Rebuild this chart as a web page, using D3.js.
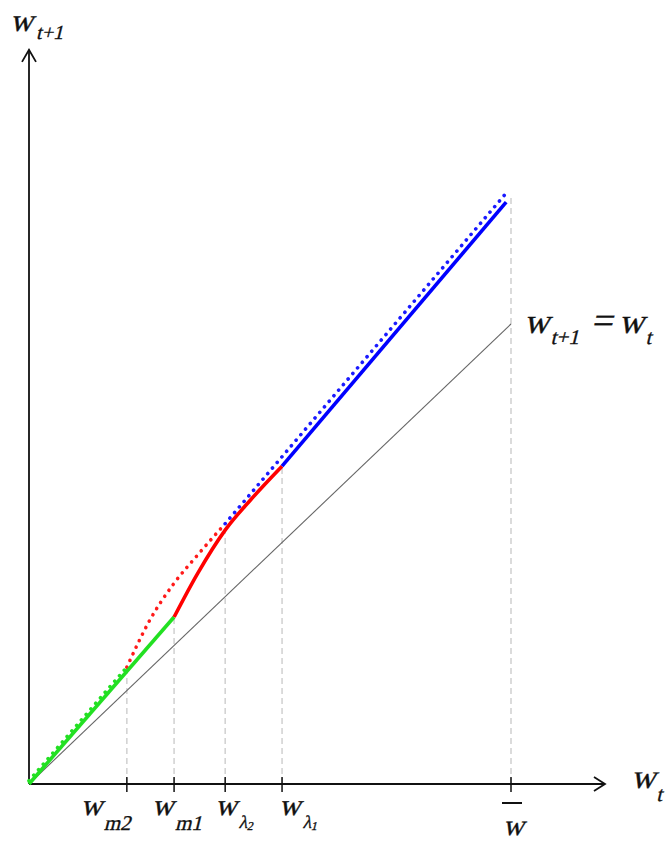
<!DOCTYPE html>
<html>
<head>
<meta charset="utf-8">
<script src="https://cdn.jsdelivr.net/npm/d3@7"></script>
<style>
  body { margin: 0; background: #fff; }
</style>
</head>
<body>
<div id="vizHolder"></div>
<script>
// values, in w units (w-bar = 10)
var	tickNames   = ['m2', 'm1', 'λ2', 'λ1', 'bar'],
		tickVals    = [2.03, 3.01, 4.07, 5.25, 10],
		guideTops   = [2.52, 3.63, 5.66, 6.91, 12.75],
		axisMax     = [11.95, 15.96],
		diagonal    = [[0, 0], [10, 10]],
		greenSolid  = [[0, 0], [3.01, 3.63]],
		greenDotted = [[0, 0.07], [2.03, 2.54]],
		redSolid    = [[3.01, 3.63], [3.5, 4.58], [4.07, 5.52], [4.6, 6.18], [5.25, 6.91]],
		redDotted   = [[2.03, 2.54], [2.5, 3.55], [3.0, 4.35], [3.5, 4.98], [4.07, 5.66]],
		blueSolid   = [[5.25, 6.91], [9.90, 12.65]],
		blueDotted  = [[4.07, 5.66], [9.92, 12.87]];

var width = 666,
		height = 846,
		serif = '"Liberation Serif", "Times New Roman", serif';

var x = d3.scaleLinear().domain([0, 10]).range([29, 511]),
		y = d3.scaleLinear().domain([0, 10]).range([784, 324]);

var svg = d3.select('#vizHolder')
				.append('svg')
				.attr('width', width)
				.attr('height', height)
				.attr('font-family', serif)
				.attr('fill', '#111');

var line = d3.line()
		.x(function(d){ return x(d[0]); })
		.y(function(d){ return y(d[1]); });

var curve = d3.line()
		.curve(d3.curveMonotoneX)
		.x(function(d){ return x(d[0]); })
		.y(function(d){ return y(d[1]); });

/* ----------- dashed guides ----------- */
svg.selectAll('line.guide').data(tickVals)
		.enter().append('line')
		.attr('class', 'guide')
		.attr('x1', function(d){ return x(d); })
		.attr('x2', function(d){ return x(d); })
		.attr('y1', y(0))
		.attr('y2', function(d, i){ return y(guideTops[i]); })
		.attr('stroke', '#d0d0d0')
		.attr('stroke-width', 1.5)
		.attr('stroke-dasharray', '6,4');

/* ----------- 45 degree line ----------- */
svg.append('path')
		.attr('d', line(diagonal))
		.attr('fill', 'none')
		.attr('stroke', '#666')
		.attr('stroke-width', 1.1);

/* ----------- axes ----------- */
var ax = svg.append('g')
		.attr('stroke', '#111')
		.attr('stroke-width', 1.8)
		.attr('fill', 'none');

ax.append('line')
		.attr('x1', x(0)).attr('y1', y(0))
		.attr('x2', x(axisMax[0])).attr('y2', y(0));
ax.append('line')
		.attr('x1', x(0)).attr('y1', y(0))
		.attr('x2', x(0)).attr('y2', y(axisMax[1]));

var xe = x(axisMax[0]), ye = y(axisMax[1]);
ax.append('path').attr('d', 'M' + (xe - 11) + ',' + (y(0) - 7) + 'L' + xe + ',' + y(0) + 'L' + (xe - 11) + ',' + (y(0) + 7));
ax.append('path').attr('d', 'M' + (x(0) - 7) + ',' + (ye + 12) + 'L' + x(0) + ',' + ye + 'L' + (x(0) + 7) + ',' + (ye + 12));

ax.selectAll('line.tick').data(tickVals)
		.enter().append('line')
		.attr('class', 'tick')
		.attr('stroke-width', 1.5)
		.attr('x1', function(d){ return x(d); })
		.attr('x2', function(d){ return x(d); })
		.attr('y1', y(0) - 7)
		.attr('y2', y(0) + 8);

/* ----------- curves ----------- */
function solid(data, color, c){
	svg.append('path')
			.attr('d', (c || line)(data))
			.attr('fill', 'none')
			.attr('stroke', color)
			.attr('stroke-width', 3.6);
}

function dotted(data, color, c){
	svg.append('path')
			.attr('d', (c || line)(data))
			.attr('fill', 'none')
			.attr('stroke', color)
			.attr('stroke-width', 3.6)
			.attr('stroke-linecap', 'round')
			.attr('stroke-dasharray', '0.1,7.2');
}

dotted(greenDotted, '#22e022');
dotted(redDotted, '#ff1a1a', curve);
dotted(blueDotted, '#1a1aff');
solid(greenSolid, '#22e022');
solid(redSolid, '#ff0000', curve);
solid(blueSolid, '#0000ff');

/* ----------- labels ----------- */
// no serif italic face installed, so slant the upright one
function mathText(px, py, size){
	return svg.append('text')
			.attr('transform', 'translate(' + px + ',' + py + ') skewX(-14)')
			.attr('font-size', size)
			.attr('stroke', '#111')
			.attr('stroke-width', 0.35);
}

var labelShift = [-46, -22, -10, -3];

tickNames.forEach(function(n, i){
	var tx = x(tickVals[i]);
	if (n === 'bar') {
		svg.append('line')
				.attr('x1', tx - 9).attr('x2', tx + 11)
				.attr('y1', 803).attr('y2', 803)
				.attr('stroke', '#111').attr('stroke-width', 2);
		mathText(tx - 8, 835, 29).text('w');
		return;
	}
	var t = mathText(tx + labelShift[i], 815, 30);
	t.append('tspan').text('w');
	if (n.charAt(0) === 'λ') {
		t.append('tspan').attr('dx', 5).attr('dy', 13).attr('font-size', 18).text('λ');
		t.append('tspan').attr('dy', 2).attr('font-size', 12).text(n.charAt(1));
	} else {
		t.append('tspan').attr('dx', 5).attr('dy', 15).attr('font-size', 21).text(n.charAt(0));
		t.append('tspan').attr('font-size', 21).text(n.charAt(1));
	}
});

// axis titles
var yl = mathText(10, 31, 32);
yl.append('tspan').text('w');
yl.append('tspan').attr('dx', 5).attr('dy', 8).attr('font-size', 20).text('t');
yl.append('tspan').attr('font-size', 20).text('+1');

var xl = mathText(631, 788, 34);
xl.append('tspan').text('w');
xl.append('tspan').attr('dx', 4).attr('dy', 13).attr('font-size', 21).text('t');

var eq = mathText(524, 333, 35);
eq.append('tspan').text('w');
eq.append('tspan').attr('dx', 4).attr('dy', 11).attr('font-size', 21).text('t');
eq.append('tspan').attr('font-size', 21).text('+1');
eq.append('tspan').attr('dx', 9).attr('dy', -11).attr('font-size', 38).text('=');
eq.append('tspan').attr('dx', 7).text('w');
eq.append('tspan').attr('dx', 4).attr('dy', 11).attr('font-size', 21).text('t');
</script>
</body>
</html>
